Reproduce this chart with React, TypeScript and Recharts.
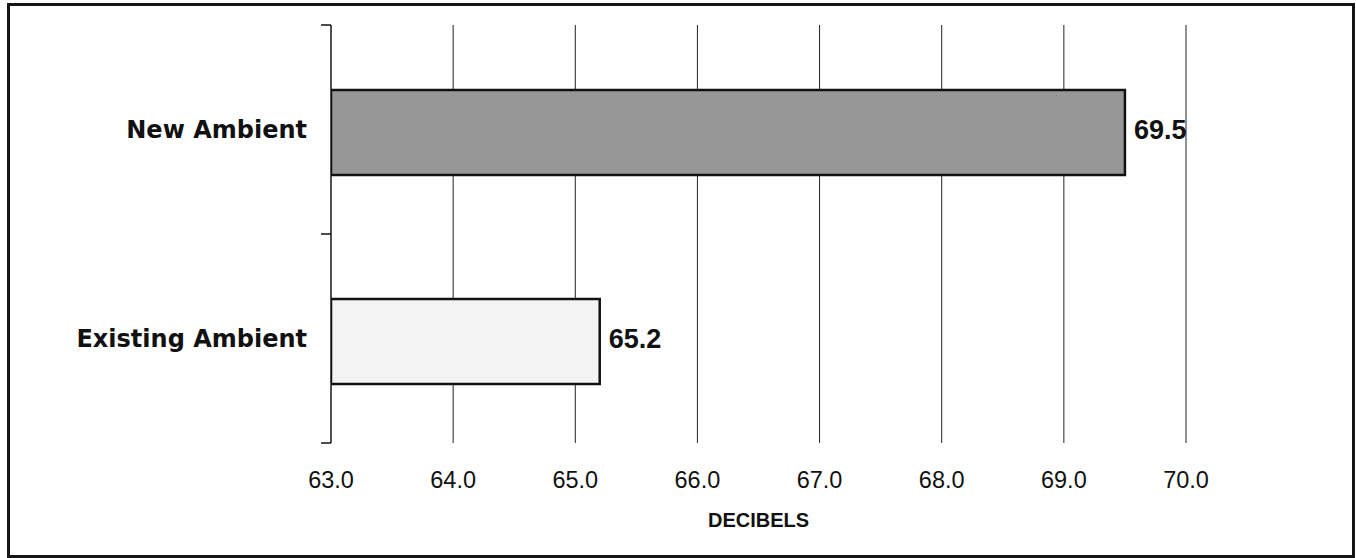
import { BarChart, Bar, XAxis, YAxis, CartesianGrid, LabelList } from 'recharts'

const categories = ['New Ambient', 'Existing Ambient']
const decibels = [69.5, 65.2]
const xTicks = [63, 64, 65, 66, 67, 68, 69, 70]
const barColors = ['#979797', '#f3f3f3']

const data = categories.map((name, i) => ({ name, value: decibels[i] }))

const LABEL_GAP = 24
const TICK_LEN = 10

// category label, plus Excel-style tick marks on the band edges
const CategoryTick = ({ x, y, payload, index }: any) => {
  const half = payload?.offset ?? 0
  const ax = x + LABEL_GAP
  const last = index === categories.length - 1
  return (
    <g>
      <line x1={ax - TICK_LEN} x2={ax} y1={y - half} y2={y - half} stroke="#111" strokeWidth={1.5} />
      {last && (
        <line x1={ax - TICK_LEN} x2={ax} y1={y + half} y2={y + half} stroke="#111" strokeWidth={1.5} />
      )}
      <text
        x={x}
        y={y}
        dy="0.36em"
        textAnchor="end"
        fontFamily="'DejaVu Sans', sans-serif"
        fontWeight={700}
        fontSize={24}
        fill="#111"
      >
        {payload.value}
      </text>
    </g>
  )
}

export default function App() {
  return (
    <div
      style={{
        position: 'absolute',
        left: 7,
        top: 3,
        width: 1348,
        height: 555,
        border: '3px solid #161616',
        boxSizing: 'border-box',
        background: '#fff',
      }}
    >
      <BarChart
        width={1342}
        height={549}
        data={data}
        layout="vertical"
        margin={{ top: 19, right: 166, bottom: 22, left: 0 }}
        style={{ fontFamily: "'Liberation Sans', Arial, sans-serif" }}
      >
        <CartesianGrid horizontal={false} stroke="#222" strokeWidth={1} />
        <XAxis
          type="number"
          domain={[63, 70]}
          ticks={xTicks}
          allowDataOverflow
          axisLine={false}
          tickLine={false}
          tickSize={0}
          tickMargin={28}
          height={90}
          interval={0}
          tickFormatter={(v: number) => v.toFixed(1)}
          tick={{ fill: '#111', fontSize: 23.5, fontFamily: "'Liberation Sans', Arial, sans-serif" }}
          label={{
            value: 'DECIBELS',
            position: 'insideBottom',
            offset: 6,
            fill: '#111',
            fontSize: 20,
            fontWeight: 700,
            fontFamily: "'Liberation Sans', Arial, sans-serif",
          }}
        />
        <YAxis
          type="category"
          dataKey="name"
          width={321}
          interval={0}
          axisLine={{ stroke: '#111', strokeWidth: 1 }}
          tickLine={false}
          tickSize={0}
          tickMargin={LABEL_GAP}
          tick={<CategoryTick />}
        />
        <Bar
          dataKey="value"
          barSize={85}
          isAnimationActive={false}
          shape={(props: any) => (
            <rect
              x={props.x}
              y={props.y + 3}
              width={props.width}
              height={props.height}
              fill={barColors[props.index]}
              stroke="#111"
              strokeWidth={2.5}
            />
          )}
        >
          <LabelList
            dataKey="value"
            position="right"
            offset={9}
            formatter={(v: any) => Number(v).toFixed(1)}
            fill="#111"
            fontSize={27}
            fontWeight={700}
            fontFamily="'Liberation Sans', Arial, sans-serif"
          />
        </Bar>
      </BarChart>
    </div>
  )
}
